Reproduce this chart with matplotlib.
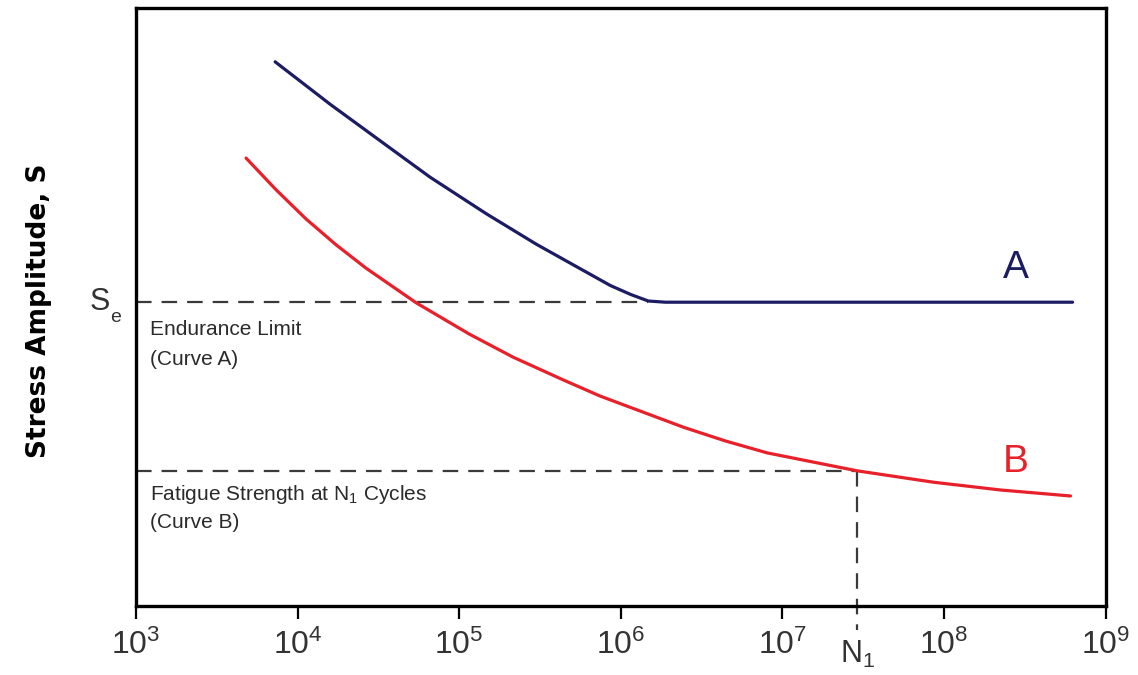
import matplotlib
matplotlib.use("Agg")
import matplotlib.pyplot as plt
import matplotlib.transforms as mtransforms

plt.rcParams['font.family'] = ['Liberation Sans', 'DejaVu Sans']
plt.rcParams['mathtext.fontset'] = 'custom'
plt.rcParams['mathtext.rm'] = 'Liberation Sans'
plt.rcParams['mathtext.it'] = 'Liberation Sans:italic'

# curve A (with endurance limit), cycles vs relative stress amplitude
cycles_a = [7.26e3, 1.59e4, 3.24e4, 6.61e4, 1.47e5, 3.0e5, 5.61e5,
            8.61e5, 1.15e6, 1.48e6, 1.89e6, 6.25e8]
stress_a = [0.910, 0.839, 0.778, 0.717, 0.656, 0.605, 0.564,
            0.536, 0.521, 0.510, 0.508, 0.508]

# curve B (no endurance limit)
cycles_b = [4.8e3, 7.36e3, 1.13e4, 1.73e4, 2.65e4, 5.42e4, 1.15e5, 2.16e5,
            4.41e5, 7.46e5, 2.44e6, 4.44e6, 8.07e6, 2.91e7, 8.61e7, 2.24e8, 6.07e8]
stress_b = [0.749, 0.696, 0.647, 0.604, 0.565, 0.507, 0.455, 0.416,
            0.378, 0.351, 0.299, 0.276, 0.256, 0.226, 0.207, 0.194, 0.184]

endurance_limit = 0.508
knee_a = 1.48e6
n1 = 2.91e7
fatigue_strength = 0.226
decades = [3, 4, 5, 6, 7, 8, 9]

fig = plt.figure(figsize=(11.38, 6.75), dpi=100)
ax = fig.add_axes([0.1195, 0.1022, 0.852, 0.886])

ax.set_xscale('log')
ax.set_xlim(1e3, 1e9)
ax.set_ylim(0, 1)

# dashed guide lines
dash_col = '#3a3a3a'
ax.plot([1e3, knee_a], [endurance_limit, endurance_limit], color=dash_col,
        lw=1.6, dashes=(7, 4.5), zorder=2)
ax.plot([1e3, n1], [fatigue_strength, fatigue_strength], color=dash_col,
        lw=1.6, dashes=(7, 4.5), zorder=2)
ax.plot([n1, n1], [fatigue_strength, -0.04], color=dash_col, lw=1.6,
        dashes=(7, 4.5), clip_on=False, zorder=2)

ax.plot(cycles_a, stress_a, color='#1c1c64', lw=2.3, zorder=3,
        solid_joinstyle='round', solid_capstyle='round')
ax.plot(cycles_b, stress_b, color='#e8202a', lw=2.3, zorder=3,
        solid_joinstyle='round', solid_capstyle='round')

ax.text(2.77e8, 0.565, 'A', color='#1c1c64', fontsize=28, ha='center', va='center')
ax.text(2.77e8, 0.241, 'B', color='#e8202a', fontsize=28, ha='center', va='center')

txt_col = '#2a2a2a'
ax.text(0.0145, 0.453, 'Endurance Limit', fontsize=15, color=txt_col,
        transform=ax.transAxes, va='baseline', ha='left')
ax.text(0.0145, 0.403, '(Curve A)', fontsize=15, color=txt_col,
        transform=ax.transAxes, va='baseline', ha='left')
ax.text(0.0145, 0.177, 'Fatigue Strength at $\\mathregular{N_1}$ Cycles',
        fontsize=15, color=txt_col, transform=ax.transAxes, va='baseline', ha='left')
ax.text(0.0145, 0.130, '(Curve B)', fontsize=15, color=txt_col,
        transform=ax.transAxes, va='baseline', ha='left')

ytrans = ax.get_yaxis_transform()
ax.text(-0.027, endurance_limit, 'S', transform=ytrans, fontsize=22,
        color='#333333', ha='right', va='center')
ax.text(-0.027, 0.482, 'e', transform=ytrans, fontsize=14,
        color='#333333', ha='left', va='center')

trans = mtransforms.blended_transform_factory(ax.transData, ax.transAxes)
ax.text(n1, -0.055, r'$\mathregular{N_1}$', transform=trans, fontsize=22,
        color='#333333', ha='center', va='top')

ax.set_xticks([10.0 ** d for d in decades])
ax.set_xticklabels([r'$\mathregular{10^{%d}}$' % d for d in decades],
                   fontsize=23, color='#333333')
ax.minorticks_off()
ax.tick_params(axis='x', direction='out', length=9, width=1.6, pad=8)
ax.set_yticks([])

for sp in ax.spines.values():
    sp.set_linewidth(2.4)
    sp.set_color('black')

fig.text(0.034, 0.54, 'Stress Amplitude, S', rotation=90, fontsize=19,
         fontweight='bold', family='DejaVu Sans', ha='center', va='center')

fig.savefig('out.png', dpi=100)
